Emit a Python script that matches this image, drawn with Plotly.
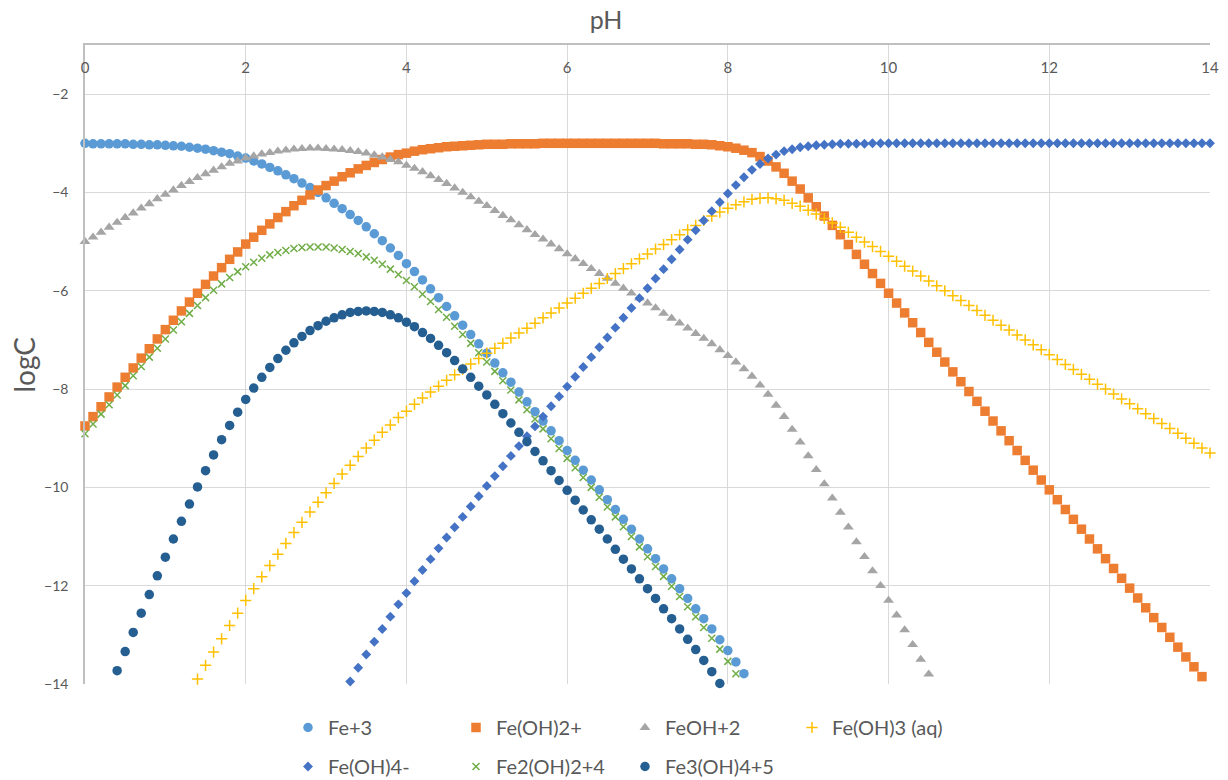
import plotly.graph_objects as go

# pH grid (0.0 .. 14.0, step 0.1)
PH = [0.0, 0.1, 0.2, 0.3, 0.4, 0.5, 0.6, 0.7, 0.8, 0.9,
      1.0, 1.1, 1.2, 1.3, 1.4, 1.5, 1.6, 1.7, 1.8, 1.9,
      2.0, 2.1, 2.2, 2.3, 2.4, 2.5, 2.6, 2.7, 2.8, 2.9,
      3.0, 3.1, 3.2, 3.3, 3.4, 3.5, 3.6, 3.7, 3.8, 3.9,
      4.0, 4.1, 4.2, 4.3, 4.4, 4.5, 4.6, 4.7, 4.8, 4.9,
      5.0, 5.1, 5.2, 5.3, 5.4, 5.5, 5.6, 5.7, 5.8, 5.9,
      6.0, 6.1, 6.2, 6.3, 6.4, 6.5, 6.6, 6.7, 6.8, 6.9,
      7.0, 7.1, 7.2, 7.3, 7.4, 7.5, 7.6, 7.7, 7.8, 7.9,
      8.0, 8.1, 8.2, 8.3, 8.4, 8.5, 8.6, 8.7, 8.8, 8.9,
      9.0, 9.1, 9.2, 9.3, 9.4, 9.5, 9.6, 9.7, 9.8, 9.9,
      10.0, 10.1, 10.2, 10.3, 10.4, 10.5, 10.6, 10.7, 10.8, 10.9,
      11.0, 11.1, 11.2, 11.3, 11.4, 11.5, 11.6, 11.7, 11.8, 11.9,
      12.0, 12.1, 12.2, 12.3, 12.4, 12.5, 12.6, 12.7, 12.8, 12.9,
      13.0, 13.1, 13.2, 13.3, 13.4, 13.5, 13.6, 13.7, 13.8, 13.9,
      14.0]

# first visible pH of each series
fe3_start = 0.0
feoh2p_start = 0.0
feoh2_start = 0.0
feoh3_start = 1.4
feoh4_start = 3.3
fe2_start = 0.0
fe3oh4_start = 0.4

# logC values
fe3 = [-3.00, -3.01, -3.01, -3.01, -3.01, -3.01, -3.02, -3.02, -3.03, -3.03,
       -3.04, -3.05, -3.06, -3.08, -3.10, -3.12, -3.15, -3.18, -3.21, -3.26,
       -3.30, -3.36, -3.42, -3.49, -3.56, -3.64, -3.72, -3.81, -3.90, -4.00,
       -4.11, -4.22, -4.33, -4.45, -4.57, -4.70, -4.84, -4.98, -5.13, -5.28,
       -5.45, -5.61, -5.78, -5.96, -6.14, -6.32, -6.51, -6.70, -6.89, -7.08,
       -7.27, -7.47, -7.67, -7.86, -8.06, -8.26, -8.46, -8.65, -8.85, -9.05,
       -9.25, -9.45, -9.65, -9.85, -10.05, -10.25, -10.45, -10.65, -10.85, -11.05,
       -11.25, -11.45, -11.66, -11.86, -12.06, -12.26, -12.47, -12.67, -12.88, -13.10,
       -13.32, -13.55, -13.79]

feoh2p = [-8.75, -8.56, -8.36, -8.16, -7.96, -7.76, -7.57, -7.37, -7.18, -6.98,
          -6.79, -6.60, -6.41, -6.23, -6.05, -5.87, -5.70, -5.53, -5.36, -5.21,
          -5.05, -4.91, -4.77, -4.64, -4.51, -4.39, -4.27, -4.16, -4.05, -3.95,
          -3.86, -3.77, -3.68, -3.60, -3.52, -3.45, -3.39, -3.33, -3.28, -3.23,
          -3.20, -3.16, -3.13, -3.11, -3.09, -3.07, -3.06, -3.05, -3.04, -3.03,
          -3.02, -3.02, -3.02, -3.01, -3.01, -3.01, -3.01, -3.00, -3.00, -3.00,
          -3.00, -3.00, -3.00, -3.00, -3.00, -3.00, -3.00, -3.00, -3.00, -3.00,
          -3.00, -3.00, -3.01, -3.01, -3.01, -3.01, -3.02, -3.02, -3.03, -3.05,
          -3.07, -3.10, -3.14, -3.19, -3.27, -3.36, -3.48, -3.61, -3.77, -3.93,
          -4.11, -4.29, -4.48, -4.67, -4.86, -5.06, -5.26, -5.46, -5.65, -5.85,
          -6.05, -6.25, -6.45, -6.65, -6.85, -7.05, -7.25, -7.45, -7.65, -7.85,
          -8.05, -8.25, -8.45, -8.65, -8.85, -9.05, -9.25, -9.45, -9.65, -9.85,
          -10.05, -10.25, -10.45, -10.65, -10.85, -11.05, -11.25, -11.45, -11.65, -11.85,
          -12.05, -12.25, -12.45, -12.65, -12.85, -13.05, -13.25, -13.45, -13.65, -13.85]

feoh2 = [-5.00, -4.91, -4.81, -4.71, -4.61, -4.51, -4.42, -4.32, -4.23, -4.13,
         -4.04, -3.95, -3.86, -3.78, -3.70, -3.62, -3.55, -3.48, -3.41, -3.36,
         -3.30, -3.26, -3.22, -3.19, -3.16, -3.14, -3.12, -3.11, -3.10, -3.10,
         -3.11, -3.12, -3.13, -3.15, -3.17, -3.20, -3.24, -3.28, -3.33, -3.38,
         -3.45, -3.51, -3.58, -3.66, -3.74, -3.82, -3.91, -4.00, -4.09, -4.18,
         -4.27, -4.37, -4.47, -4.56, -4.66, -4.76, -4.86, -4.95, -5.05, -5.15,
         -5.25, -5.35, -5.45, -5.55, -5.65, -5.75, -5.85, -5.95, -6.05, -6.15,
         -6.25, -6.35, -6.46, -6.56, -6.66, -6.76, -6.87, -6.97, -7.08, -7.20,
         -7.32, -7.45, -7.59, -7.74, -7.92, -8.11, -8.33, -8.56, -8.82, -9.08,
         -9.36, -9.64, -9.93, -10.22, -10.51, -10.81, -11.11, -11.41, -11.70, -12.00,
         -12.30, -12.60, -12.90, -13.20, -13.50, -13.80]

feoh3 = [-13.90, -13.62, -13.35, -13.08, -12.81, -12.56,
         -12.30, -12.06, -11.82, -11.59, -11.36, -11.14, -10.92, -10.71, -10.50, -10.30,
         -10.11, -9.92, -9.73, -9.55, -9.37, -9.20, -9.04, -8.88, -8.73, -8.58,
         -8.45, -8.31, -8.18, -8.06, -7.94, -7.82, -7.71, -7.60, -7.49, -7.38,
         -7.27, -7.17, -7.07, -6.96, -6.86, -6.76, -6.66, -6.55, -6.45, -6.35,
         -6.25, -6.15, -6.05, -5.95, -5.85, -5.75, -5.65, -5.55, -5.45, -5.35,
         -5.25, -5.15, -5.06, -4.96, -4.86, -4.76, -4.67, -4.57, -4.48, -4.40,
         -4.32, -4.25, -4.19, -4.14, -4.12, -4.11, -4.13, -4.16, -4.22, -4.28,
         -4.36, -4.44, -4.53, -4.62, -4.71, -4.81, -4.91, -5.01, -5.10, -5.20,
         -5.30, -5.40, -5.50, -5.60, -5.70, -5.80, -5.90, -6.00, -6.10, -6.20,
         -6.30, -6.40, -6.50, -6.60, -6.70, -6.80, -6.90, -7.00, -7.10, -7.20,
         -7.30, -7.40, -7.50, -7.60, -7.70, -7.80, -7.90, -8.00, -8.10, -8.20,
         -8.30, -8.40, -8.50, -8.60, -8.70, -8.80, -8.90, -9.00, -9.10, -9.20,
         -9.30]

feoh4 = [-13.95, -13.67, -13.40, -13.14, -12.88, -12.63, -12.38,
         -12.15, -11.91, -11.68, -11.46, -11.24, -11.02, -10.81, -10.60, -10.39, -10.18,
         -9.97, -9.77, -9.57, -9.36, -9.16, -8.96, -8.76, -8.56, -8.35, -8.15,
         -7.95, -7.75, -7.55, -7.35, -7.15, -6.95, -6.75, -6.55, -6.35, -6.15,
         -5.95, -5.75, -5.56, -5.36, -5.16, -4.96, -4.77, -4.57, -4.38, -4.20,
         -4.02, -3.85, -3.69, -3.54, -3.42, -3.31, -3.23, -3.16, -3.12, -3.08,
         -3.06, -3.04, -3.03, -3.02, -3.01, -3.01, -3.01, -3.01, -3.00, -3.00,
         -3.00, -3.00, -3.00, -3.00, -3.00, -3.00, -3.00, -3.00, -3.00, -3.00,
         -3.00, -3.00, -3.00, -3.00, -3.00, -3.00, -3.00, -3.00, -3.00, -3.00,
         -3.00, -3.00, -3.00, -3.00, -3.00, -3.00, -3.00, -3.00, -3.00, -3.00,
         -3.00, -3.00, -3.00, -3.00, -3.00, -3.00, -3.00, -3.00, -3.00, -3.00,
         -3.00]

fe2 = [-8.91, -8.71, -8.51, -8.32, -8.12, -7.93, -7.73, -7.54, -7.35, -7.17,
       -6.98, -6.80, -6.63, -6.46, -6.30, -6.14, -5.99, -5.86, -5.73, -5.61,
       -5.51, -5.42, -5.34, -5.27, -5.22, -5.18, -5.14, -5.12, -5.11, -5.11,
       -5.11, -5.13, -5.16, -5.20, -5.24, -5.31, -5.38, -5.46, -5.56, -5.67,
       -5.79, -5.92, -6.07, -6.22, -6.38, -6.54, -6.72, -6.89, -7.07, -7.26,
       -7.45, -7.64, -7.83, -8.02, -8.22, -8.42, -8.61, -8.81, -9.01, -9.21,
       -9.41, -9.60, -9.80, -10.00, -10.20, -10.40, -10.60, -10.80, -11.00, -11.21,
       -11.41, -11.61, -11.81, -12.01, -12.22, -12.43, -12.63, -12.85, -13.07, -13.29,
       -13.54, -13.79]

fe3oh4 = [-13.73, -13.34, -12.95, -12.56, -12.18, -11.80,
          -11.42, -11.05, -10.69, -10.34, -9.99, -9.66, -9.34, -9.03, -8.74, -8.47,
          -8.21, -7.98, -7.76, -7.56, -7.38, -7.21, -7.06, -6.93, -6.81, -6.71,
          -6.62, -6.55, -6.49, -6.44, -6.42, -6.41, -6.42, -6.44, -6.49, -6.55,
          -6.64, -6.73, -6.85, -6.97, -7.11, -7.26, -7.42, -7.59, -7.76, -7.94,
          -8.12, -8.31, -8.50, -8.69, -8.88, -9.07, -9.27, -9.46, -9.66, -9.86,
          -10.06, -10.26, -10.46, -10.66, -10.85, -11.05, -11.26, -11.46, -11.66, -11.86,
          -12.06, -12.26, -12.47, -12.67, -12.88, -13.09, -13.30, -13.52, -13.75, -13.99]

X_TICKS = [0, 2, 4, 6, 8, 10, 12, 14]
Y_TICKS = [-14, -12, -10, -8, -6, -4, -2]

FONT = "Lato, 'Open Sans', sans-serif"
GREY_TEXT = "#595959"


def xs(start, ys):
    i0 = int(round(start * 10))
    return PH[i0:i0 + len(ys)]


series = [
    # name, start, values, symbol, color, size, legend, open-symbol
    ("Fe+3", fe3_start, fe3, "circle", "#5B9BD5", 9.5, "legend", False),
    ("Fe(OH)2+", feoh2p_start, feoh2p, "square", "#ED7D31", 9.5, "legend2", False),
    ("FeOH+2", feoh2_start, feoh2, "triangle-up", "#A5A5A5", 9.5, "legend3", False),
    ("Fe(OH)3 (aq)", feoh3_start, feoh3, "cross-thin", "#FFC000", 8, "legend4", True),
    ("Fe(OH)4-", feoh4_start, feoh4, "diamond", "#4472C4", 7.6, "legend", False),
    ("Fe2(OH)2+4", fe2_start, fe2, "x-thin", "#70AD47", 7, "legend2", True),
    ("Fe3(OH)4+5", fe3oh4_start, fe3oh4, "circle", "#255E91", 9.5, "legend3", False),
]

fig = go.Figure()
for name, start, vals, sym, col, size, leg, is_open in series:
    if is_open:
        marker = dict(symbol=sym, size=size, color=col, line=dict(color=col, width=1.5))
    else:
        marker = dict(symbol=sym, size=size, color=col, line=dict(width=0))
    fig.add_trace(go.Scatter(
        x=xs(start, vals), y=vals, mode="markers", name=name,
        marker=marker, legend=leg, legendgroup=name, cliponaxis=False,
    ))

legend_common = dict(orientation="v", yanchor="top", xanchor="left",
                     xref="container", yref="container",
                     font=dict(family=FONT, size=20, color=GREY_TEXT),
                     bgcolor="rgba(0,0,0,0)", tracegroupgap=10, y=1 - 708 / 780)

PLOT_L, PLOT_R = 85, 1210

fig.update_layout(
    width=1228, height=780,
    margin=dict(l=PLOT_L, r=1228 - PLOT_R, t=45, b=96, autoexpand=False),
    paper_bgcolor="white", plot_bgcolor="white",
    font=dict(family=FONT, color=GREY_TEXT),
    showlegend=True,
    title=dict(text="pH", x=606 / 1228, xref="container", xanchor="center",
               y=1 - 20 / 780, yref="container", yanchor="middle",
               font=dict(family=FONT, size=25, color=GREY_TEXT)),
    legend=dict(x=288 / 1228, **legend_common),
    legend2=dict(x=456 / 1228, **legend_common),
    legend3=dict(x=625 / 1228, **legend_common),
    legend4=dict(x=792 / 1228, **legend_common),
    xaxis=dict(
        range=[0, 14], side="top", tickvals=X_TICKS, ticks="",
        ticklabelposition="inside", ticklabelstandoff=18, ticklabeloverflow="allow",
        tickfont=dict(family=FONT, size=15, color=GREY_TEXT),
        showgrid=True, gridcolor="#D9D9D9", gridwidth=1,
        showline=True, linecolor="#BFBFBF", linewidth=1.5,
        zeroline=False, automargin=False,
    ),
    yaxis=dict(
        range=[-14, -1], tickvals=Y_TICKS,
        ticks="outside", ticklen=12, tickcolor="rgba(0,0,0,0)",
        tickfont=dict(family=FONT, size=14, color=GREY_TEXT),
        showgrid=True, gridcolor="#D9D9D9", gridwidth=1,
        showline=True, linecolor="#BFBFBF", linewidth=1.5,
        zeroline=False, automargin=False,
    ),
    annotations=[dict(
        text="logC", textangle=-90, showarrow=False,
        xref="paper", yref="paper", x=(23 - PLOT_L) / (PLOT_R - PLOT_L), y=0.5,
        xanchor="center", yanchor="middle",
        font=dict(family=FONT, size=28, color=GREY_TEXT),
    )],
)

fig.write_html("out.html", config={"displayModeBar": False},
               post_script="document.body.style.margin='0';")
